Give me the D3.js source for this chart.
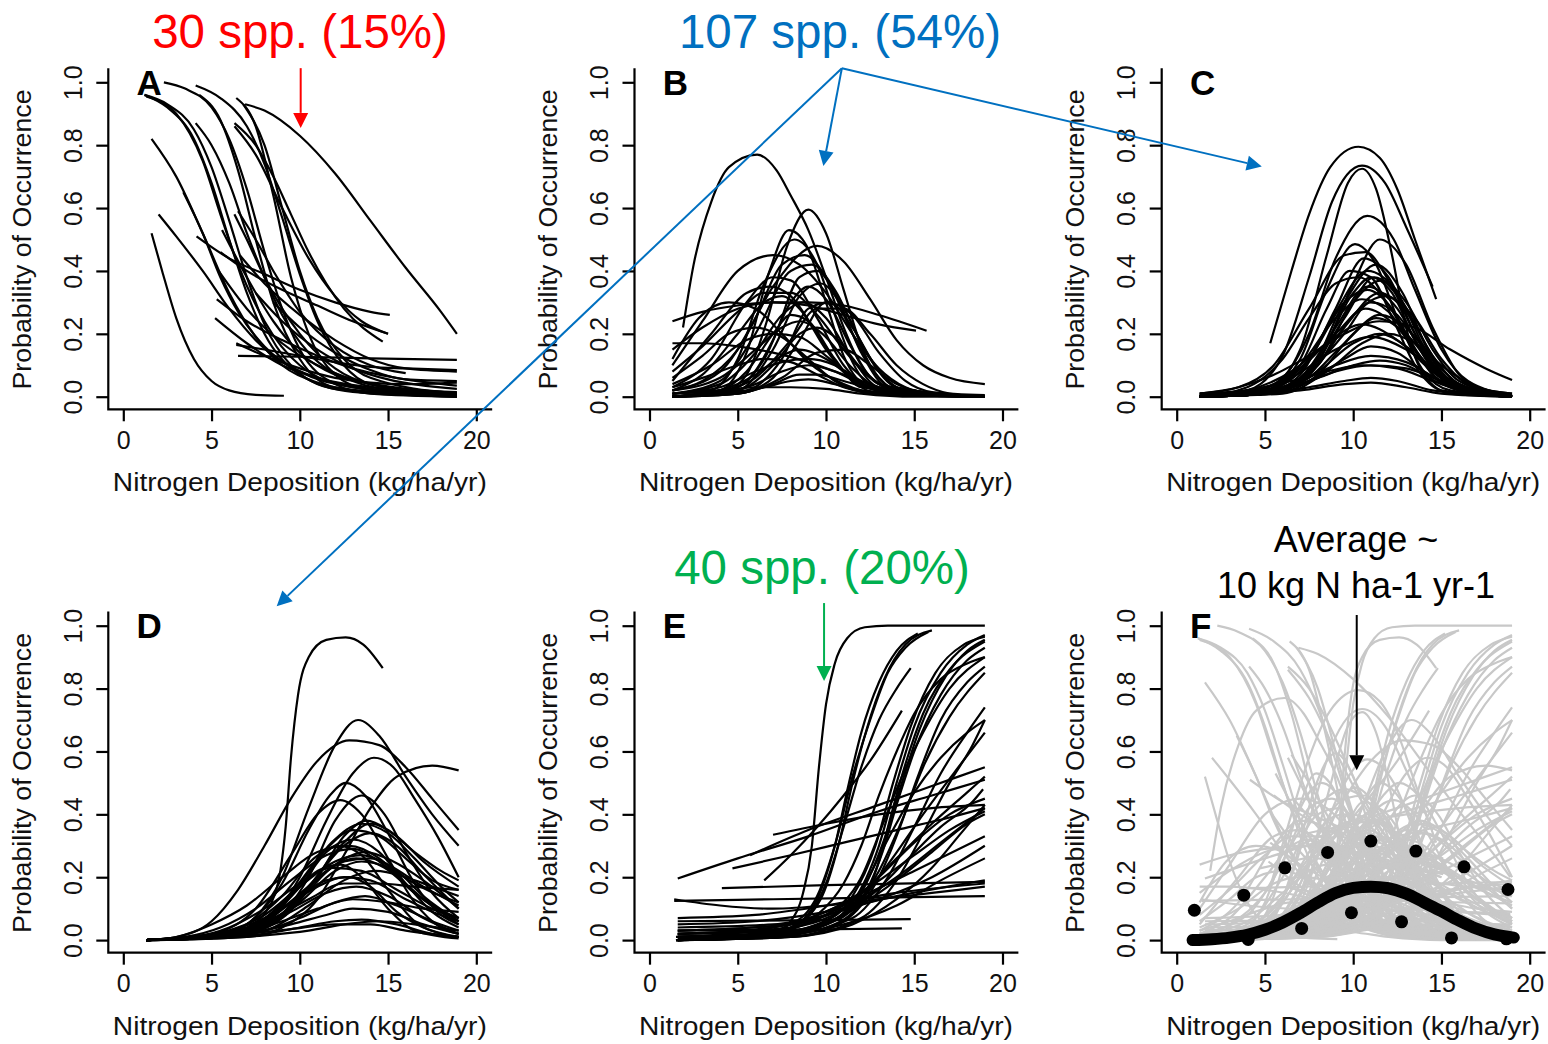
<!DOCTYPE html>
<html>
<head>
<meta charset="utf-8">
<script src="https://cdn.jsdelivr.net/npm/d3@7"></script>
<style>
  body { margin: 0; background: #fff; }
  svg { display: block; font-family: "Liberation Sans", Arial, sans-serif; }
</style>
</head>
<body>
<svg id="chart"></svg>
<script>
// Axis ticks and labels
const xTicks = [0, 5, 10, 15, 20];
const yTicks = [0, 0.2, 0.4, 0.6, 0.8, 1.0];
const xTitle = "Nitrogen Deposition (kg/ha/yr)";
const yTitle = "Probability of Occurrence";
const panelLetters = ["A", "B", "C", "D", "E", "F"];

// Species response curves, [N deposition, probability]
const declineCurves = [
  [[6.9,.93],[8,.91],[10,.83],[12,.71],[14,.56],[16,.41],[18,.27],[18.9,.2]],
  [[2.3,1.0],[3.5,.98],[5,.92],[6,.82],[7,.66],[8,.46],[9,.28],[10,.15],[12,.04],[14,.01],[18.9,0]],
  [[4.1,.99],[5.5,.95],[7,.86],[8,.74],[9,.57],[10,.39],[11,.24],[12.5,.1],[14,.04],[18.9,.005]],
  [[4.3,.96],[5.5,.88],[6.5,.72],[7.5,.5],[8.5,.3],[10,.12],[12,.03],[18.9,0]],
  [[6.4,.95],[7.5,.86],[8.5,.64],[9.5,.38],[10.5,.2],[12,.07],[14,.02],[18.9,.002]],
  [[6.8,.93],[8,.8],[9,.6],[10,.4],[11,.25],[12.5,.12],[14,.06],[18.9,.01]],
  [[1.2,.96],[2.5,.93],[4,.85],[5,.73],[6,.56],[7,.38],[8,.23],[9.5,.1],[12,.025],[18.9,0]],
  [[1.2,.96],[2.5,.92],[4,.82],[5,.68],[6,.5],[7,.33],[8,.2],[10,.07],[13,.015],[18.9,0]],
  [[1.3,.955],[3,.9],[4.5,.75],[5.5,.58],[6.5,.42],[8,.24],[10,.1],[13,.03],[18.9,.005]],
  [[1.6,.82],[3,.7],[4.5,.52],[6,.33],[7.5,.19],[9,.1],[11,.045],[14,.015],[18.9,.003]],
  [[2.0,.58],[3,.51],[4.5,.4],[6,.28],[7.5,.18],[9,.11],[11,.06],[14,.025],[18.9,.008]],
  [[1.6,.52],[2.2,.4],[3,.25],[4,.12],[5,.05],[6,.02],[7.5,.006],[9.1,.003]],
  [[3.4,.65],[4.5,.52],[5.5,.38],[6.5,.27],[8,.16],[10,.08],[13,.03],[16,.01]],
  [[4.15,.51],[6,.44],[8,.39],[10,.34],[12,.3],[14,.27],[15.1,.26]],
  [[5.5,.46],[7,.4],[9,.34],[11,.29],[13,.24],[15,.2]],
  [[6.5,.13],[10,.127],[14,.122],[18.9,.117]],
  [[6.4,.165],[8,.15],[10,.13],[12,.11],[14,.095],[16,.09],[18.9,.085]],
  [[6.3,.58],[7,.5],[8,.38],[9,.28],[10,.2],[12,.09],[14,.04],[18.9,.007]],
  [[6.3,.87],[7.5,.8],[8.5,.7],[9.5,.58],[10.5,.46],[11.5,.36],[12.5,.28],[14.7,.175]],
  [[6.3,.86],[7.5,.77],[9,.6],[10.5,.44],[12,.32],[13.5,.24],[15,.2]],
  [[5.6,.53],[7,.38],[8.5,.24],[10,.14],[12,.07],[14,.04],[16,.02],[18.9,.01]],
  [[4.1,.87],[5,.8],[6,.68],[7,.52],[8,.38],[9,.26],[10.5,.14],[13,.05],[16,.015],[18.9,.005]],
  [[5.4,.4],[7,.28],[9,.17],[11,.1],[13,.055],[16,.025],[18.9,.012]],
  [[5.3,.31],[7,.24],[9,.18],[11,.13],[13,.09],[16,.055],[18.9,.035]],
  [[6.6,.45],[8,.36],[10,.26],[12,.18],[14,.12],[16,.09],[18.9,.08]],
  [[6.5,.59],[7.5,.5],[8.5,.4],[10,.27],[12,.16],[14,.1],[16,.075]],
  [[5.2,.25],[7,.17],[9,.1],[11,.06],[14,.03],[18.9,.015]],
  [[7.5,.33],[9,.24],[11,.15],[13,.09],[15,.055],[18.9,.025]],
  [[6.4,.17],[8,.13],[10,.09],[12,.06],[14,.045],[16,.04],[18.9,.045]],
  [[8.5,.3],[10,.22],[12,.14],[14,.085],[16,.055],[18.9,.05]]
];

const earlyPeakCurves = [
  [[1.9,.22],[2.5,.42],[3.5,.62],[4.5,.73],[6.1,.77],[7.2,.72],[8,.64],[9,.53],[10,.38],[11,.22],[12,.1],[13,.04],[14.5,.01],[19,0]],
  [[1.3,0],[4,.01],[5.5,.07],[6.7,.25],[7.8,.48],[9,.595],[10,.52],[11,.34],[12,.16],[13,.06],[14.5,.01],[19,0]],
  [[1.3,0],[4,.02],[5.5,.14],[6.8,.4],[7.9,.53],[8.9,.48],[10,.3],[11,.13],[12.5,.03],[19,0]],
  [[1.3,0],[3.5,.02],[5,.12],[6.5,.36],[8.2,.5],[9.5,.42],[10.5,.26],[11.5,.11],[13,.02],[19,0]],
  [[1.3,.02],[3,.05],[5,.15],[7,.35],[9.5,.48],[11,.43],[12.5,.31],[14,.18],[15.5,.1],[17,.06],[19,.04]],
  [[1.3,.1],[3,.24],[5,.4],[7,.45],[8.5,.42],[10,.33],[11.5,.2],[13,.09],[14.5,.03],[16,.01],[19,0]],
  [[1.3,.24],[3,.27],[5,.29],[7,.3],[9,.3],[11,.29],[13,.26],[15.7,.21]],
  [[1.3,.17],[3,.17],[5,.16],[7,.14],[9,.11],[11,.07],[13,.03],[15,.01],[19,0]],
  [[1.3,.15],[3,.22],[5,.28],[7,.3],[9,.29],[11,.26],[13,.23],[15.1,.21]],
  [[1.3,.08],[3,.16],[5,.27],[6.5,.33],[8,.33],[9.5,.26],[11,.15],[12.5,.06],[14,.02],[19,0]],
  [[1.3,.02],[4,.08],[6,.25],[7.5,.42],[8.8,.45],[10,.38],[11.5,.2],[13,.06],[14.5,.01],[19,0]],
  [[1.3,.01],[4,.05],[6,.2],[8,.4],[9.2,.42],[10.5,.34],[12,.17],[13.5,.05],[15,.01],[19,0]],
  [[1.3,0],[5,.03],[7,.18],[8.5,.38],[9.5,.4],[10.5,.33],[12,.14],[13.5,.03],[19,0]],
  [[1.3,.03],[3.5,.12],[5.5,.3],[7,.38],[8,.37],[9.5,.25],[11,.1],[12.5,.03],[19,0]],
  [[1.3,.05],[3.5,.2],[5.5,.33],[6.8,.35],[8,.32],[9.5,.2],[11,.08],[13,.02],[19,0]],
  [[1.3,.12],[2.8,.25],[4.5,.3],[6,.28],[7.5,.2],[9,.11],[11,.04],[13,.01],[19,0]],
  [[1.3,0],[4.5,.02],[6.5,.12],[8,.3],[9,.35],[10,.31],[11.5,.15],[13,.04],[19,0]],
  [[1.3,0],[5,.02],[7,.15],[8.5,.32],[9.7,.36],[11,.28],[12.5,.12],[14,.03],[19,0]],
  [[1.3,.01],[4,.04],[6,.14],[7.5,.26],[8.7,.3],[10,.25],[11.5,.12],[13,.03],[19,0]],
  [[1.3,.02],[4,.06],[6,.15],[7.5,.22],[8.5,.24],[9.8,.2],[11.5,.09],[13,.03],[19,0]],
  [[1.3,0],[5.5,.02],[7.5,.12],[9,.28],[10.2,.3],[11.5,.22],[13,.08],[14.5,.02],[19,0]],
  [[1.3,.04],[3.5,.1],[5.5,.18],[7,.2],[8.5,.19],[10,.13],[12,.04],[14,.01],[19,0]],
  [[1.3,0],[4,.02],[6,.07],[7.5,.13],[8.5,.15],[10,.12],[11.5,.06],[13,.02],[19,0]],
  [[1.3,.01],[4,.03],[6,.08],[7.5,.11],[9,.12],[10.5,.1],[12,.05],[14,.01],[19,0]],
  [[1.3,0],[4,.01],[6,.04],[7.5,.08],[9,.1],[10.5,.08],[12,.04],[14,.01],[19,0]],
  [[1.3,0],[5,.01],[7,.04],[8.5,.07],[9.5,.07],[11,.05],[13,.02],[19,0]],
  [[1.3,0],[4.5,.01],[6.5,.03],[8,.05],[9,.055],[10.5,.04],[12.5,.01],[19,0]],
  [[1.3,.01],[4,.02],[6,.03],[8,.03],[10,.025],[12,.01],[15,0],[19,0]],
  [[1.3,.03],[3,.06],[5,.1],[6.5,.12],[8,.11],[9.5,.07],[11,.03],[13,.01],[19,0]],
  [[1.3,.06],[3,.13],[4.5,.2],[6,.22],[7.5,.19],[9,.12],[10.5,.05],[12,.02],[19,0]],
  [[1.3,0],[5,.02],[7,.1],[8.5,.2],[9.5,.22],[10.5,.19],[12,.09],[13.5,.03],[19,0]],
  [[1.3,0],[4,.02],[5.5,.08],[7,.2],[8,.26],[9,.24],[10.5,.12],[12,.03],[19,0]],
  [[1.3,.02],[3,.07],[5,.2],[6.5,.3],[7.5,.32],[8.5,.28],[10,.15],[11.5,.05],[13,.01],[19,0]],
  [[1.3,0],[5,.01],[7.5,.06],[9.5,.14],[11,.15],[12.5,.1],[14,.04],[16,.01],[19,0]],
  [[1.3,.01],[4,.02],[6,.06],[8,.18],[9.5,.28],[11,.28],[12.5,.2],[14,.1],[15.5,.04],[17,.01],[19,0]],
  [[1.3,0],[5,.01],[7,.06],[8.5,.18],[10,.3],[11.5,.26],[13,.14],[14.5,.05],[16,.015],[19,.005]]
];

const midPeakCurves = [
  [[5.3,.17],[6.5,.4],[7.5,.58],[8.7,.73],[10.3,.795],[11.5,.76],[12.5,.66],[13.5,.5],[14.7,.31]],
  [[1.3,0],[4,.02],[6,.13],[7.5,.38],[8.8,.62],[10.5,.735],[11.8,.68],[13,.54],[14.5,.35]],
  [[1.3,0],[5,.02],[7,.15],[8.5,.45],[9.7,.68],[10.5,.725],[11.3,.66],[12.2,.45],[13,.22],[14,.07],[15.5,.01],[19,0]],
  [[1.3,0],[4,.01],[6,.06],[7.5,.2],[9,.44],[10.8,.575],[12.3,.5],[13.5,.34],[15,.15],[16.5,.05],[19,.005]],
  [[1.3,0],[5,.01],[7,.06],[8.5,.17],[10,.36],[11.5,.5],[13,.42],[14.5,.22],[16,.07],[17.5,.02],[19,0]],
  [[1.3,0],[5,.02],[7,.12],[8.5,.34],[10.1,.485],[11.3,.42],[12.5,.25],[14,.08],[15.5,.02],[19,0]],
  [[1.3,.01],[3.5,.03],[5.5,.1],[7.5,.28],[9.5,.45],[10.7,.46],[12,.37],[13.5,.2],[15,.07],[17,.015],[19,0]],
  [[1.3,0],[5,.01],[7,.07],[9,.28],[10.6,.44],[12,.38],[13.5,.2],[15,.06],[17,.01],[19,0]],
  [[1.3,0],[5,.01],[7.5,.08],[9.5,.3],[11.3,.42],[12.8,.33],[14.3,.14],[16,.03],[19,0]],
  [[1.3,0],[4.5,.01],[7,.08],[9,.27],[10.8,.4],[12.5,.33],[14,.16],[15.5,.05],[17.5,.01],[19,0]],
  [[1.3,0],[5,.01],[7.5,.08],[9.5,.25],[11.2,.38],[12.8,.3],[14.5,.13],[16,.04],[19,0]],
  [[1.3,0],[4.5,.01],[7,.06],[9,.22],[10.8,.35],[12.5,.28],[14,.13],[15.5,.04],[19,0]],
  [[1.3,0],[5,.01],[7.5,.07],[9.5,.22],[11.5,.33],[13,.27],[14.5,.13],[16,.04],[19,0]],
  [[1.3,0],[5,.01],[7.5,.08],[9.5,.2],[11,.3],[12.5,.26],[14,.14],[15.5,.05],[19,0]],
  [[1.3,0],[4.5,.02],[7,.09],[9,.2],[10.7,.28],[12.5,.22],[14,.11],[16,.03],[19,0]],
  [[1.3,0],[5,.01],[7.5,.06],[9.5,.17],[11.3,.25],[13,.2],[14.5,.1],[16,.03],[19,0]],
  [[1.3,0],[4,.02],[6.5,.08],[8.5,.17],[10.5,.23],[12.5,.18],[14.5,.08],[16.5,.02],[19,0]],
  [[1.3,0],[5,.01],[8,.08],[10,.17],[11.5,.2],[13,.16],[14.5,.08],[16,.03],[19,0]],
  [[1.3,.01],[4,.02],[6.5,.06],[9,.15],[11,.19],[13,.15],[15,.07],[17,.02],[19,.005]],
  [[1.3,0],[5,.01],[7.5,.05],[9.5,.12],[11,.16],[12.5,.14],[14,.08],[16,.02],[19,0]],
  [[1.3,0],[4,.01],[7,.05],[9,.1],[11,.13],[13,.11],[15,.05],[17,.01],[19,0]],
  [[1.3,0],[5,.01],[8,.06],[10,.1],[11.5,.115],[13,.1],[15,.04],[17,.01],[19,0]],
  [[1.3,0],[4.5,.01],[7,.04],[9,.08],[11,.1],[13,.09],[15,.05],[17,.015],[19,.003]],
  [[1.3,.005],[4,.02],[6.5,.05],[8.5,.08],[10.5,.1],[12.5,.09],[14.5,.05],[17,.01],[19,0]],
  [[1.3,0],[5,.01],[7.5,.03],[9.5,.05],[11,.06],[12.5,.05],[14.5,.02],[19,0]],
  [[1.3,0],[4,.01],[7,.02],[9.5,.04],[11,.045],[13,.03],[15,.01],[19,0]],
  [[1.3,.01],[3.5,.03],[5.5,.07],[7.5,.13],[9.5,.2],[11.5,.24],[13.5,.22],[15.5,.15],[17.5,.09],[19,.053]],
  [[1.3,0],[4,.03],[6,.12],[7.5,.25],[9,.36],[10.3,.38],[11.5,.33],[13,.2],[14.5,.07],[16,.02],[19,0]],
  [[1.3,0],[5,.01],[8,.1],[10,.3],[11.6,.37],[13,.3],[14.5,.15],[16,.05],[19,0]],
  [[1.3,0],[5,.02],[7.5,.12],[9.5,.3],[10.8,.34],[12.2,.28],[13.5,.15],[15,.05],[19,0]],
  [[1.3,0],[4.5,.02],[7,.1],[9,.25],[10.5,.31],[12,.27],[13.5,.15],[15.5,.04],[19,0]],
  [[1.3,0],[5,.01],[8,.1],[10,.26],[11.8,.32],[13.5,.25],[15,.12],[16.5,.04],[19,.01]],
  [[1.3,0],[5.5,.01],[8,.07],[10,.2],[11.5,.26],[13,.22],[14.5,.12],[16,.04],[19,0]],
  [[1.3,0],[4.5,.01],[7.5,.07],[10,.33],[11,.38],[12.2,.33],[13.5,.18],[15,.06],[19,0]],
  [[1.3,0],[5,.02],[7,.1],[8.5,.28],[9.8,.4],[11,.38],[12.3,.24],[13.5,.1],[15,.02],[19,0]],
  [[1.3,0],[6,.01],[8.5,.08],[10.5,.17],[12,.2],[13.5,.17],[15,.1],[17,.03],[19,.01]]
];

const latePeakCurves = [
  [[1.3,0],[5,.01],[7,.04],[8.4,.12],[8.9,.22],[9.2,.36],[9.5,.58],[9.9,.78],[10.5,.9],[11.5,.955],[12.6,.963],[13.6,.94],[14.7,.865]],
  [[1.3,0],[5,.01],[7,.05],[9,.2],[10.5,.42],[12,.62],[13.3,.7],[14.5,.65],[16,.52],[17.5,.4],[19,.3]],
  [[1.3,0],[3,.01],[5,.06],[6.5,.16],[8,.3],[9.5,.45],[11,.57],[12.8,.635],[14.5,.62],[16,.55],[17.5,.45],[19,.35]],
  [[1.3,0],[6,.01],[8,.05],[10,.2],[11.5,.38],[13,.53],[14.2,.58],[15.3,.55],[16.5,.45],[17.8,.33],[19,.2]],
  [[1.3,0],[7,.01],[9,.04],[11,.13],[12.5,.27],[14,.42],[15.5,.52],[17.5,.555],[19,.54]],
  [[1.3,0],[5,.01],[7,.05],[9,.18],[10.5,.35],[11.7,.46],[12.6,.5],[13.7,.46],[15,.34],[16.5,.18],[18,.08],[19,.05]],
  [[1.3,0],[5,.02],[7.5,.1],[9.5,.27],[11,.4],[12.3,.445],[13.5,.4],[15,.26],[16.5,.12],[18,.04],[19,.02]],
  [[1.3,0],[6,.01],[8.5,.06],[10.5,.2],[12,.38],[13.5,.46],[14.8,.4],[16,.28],[17.5,.15],[19,.07]],
  [[1.3,0],[6,.01],[9,.07],[11,.2],[12.5,.33],[13.8,.38],[15,.35],[16.5,.28],[18,.22],[19,.19]],
  [[1.3,0],[6,.01],[8.5,.05],[10.5,.17],[12.5,.31],[14,.37],[15.5,.33],[17,.25],[19,.17]],
  [[1.3,0],[3,.01],[5,.05],[7,.11],[9,.2],[11,.28],[12.8,.3],[14.5,.26],[16,.18],[17.5,.11],[19,.07]],
  [[1.3,0],[3.5,.01],[5.5,.04],[7.5,.1],[9.5,.19],[11.5,.27],[13,.29],[14.5,.25],[16.5,.15],[19,.06]],
  [[1.3,0],[4,.01],[6,.03],[8,.08],[10,.17],[12,.25],[13.5,.27],[15,.24],[17,.17],[19,.11]],
  [[1.3,0],[4,.01],[6.5,.03],[8.5,.08],[10.5,.17],[12.5,.25],[14,.26],[15.5,.22],[17,.14],[19,.06]],
  [[1.3,0],[5,.01],[7.5,.04],[9.5,.12],[11.5,.22],[13.2,.26],[14.8,.23],[16.5,.15],[19,.05]],
  [[1.3,0],[4,.01],[6,.04],[8,.1],[10,.18],[11.8,.23],[13.5,.22],[15.5,.16],[17.5,.1],[19,.07]],
  [[1.3,0],[4.5,.01],[7,.04],[9,.1],[11,.17],[12.5,.2],[14,.19],[16,.13],[17.5,.09],[19,.06]],
  [[1.3,0],[4,.01],[6.5,.03],[8.5,.07],[10.5,.13],[12.5,.18],[14.5,.18],[16.5,.17],[19,.16]],
  [[1.3,0],[5,.01],[7.5,.04],[9.5,.09],[11.5,.15],[13.2,.17],[15,.14],[17,.07],[19,.02]],
  [[1.3,0],[4,.01],[6.5,.02],[9,.06],[11,.1],[13,.13],[15,.12],[17,.1],[19,.09]],
  [[1.3,0],[5,.01],[8,.03],[10,.07],[12,.12],[13.7,.14],[15.5,.11],[17.5,.06],[19,.03]],
  [[1.3,0],[4,.005],[7,.02],[9.5,.05],[11.5,.08],[13,.1],[15,.09],[17,.05],[19,.02]],
  [[1.3,0],[5,.01],[8,.02],[10,.04],[12,.06],[13.5,.065],[15.5,.05],[17.5,.02],[19,.01]],
  [[1.3,0],[4,.005],[7,.02],[9.5,.035],[12,.05],[14,.05],[16,.03],[19,.01]],
  [[1.3,0],[5,.005],[8,.015],[10.5,.03],[12.5,.05],[14.5,.06],[16.5,.05],[19,.03]],
  [[1.3,0],[4,.01],[6,.03],[8,.07],[10,.14],[11.5,.19],[12.8,.2],[14,.17],[15.5,.09],[17,.04],[19,.01]],
  [[1.3,0],[5,.01],[7.5,.05],[9.5,.14],[11,.22],[12.3,.24],[13.5,.2],[15,.1],[16.5,.03],[19,.005]],
  [[1.3,0],[4.5,.01],[7,.05],[9,.14],[10.8,.26],[12.2,.3],[13.5,.27],[15,.16],[16.5,.06],[18,.02],[19,.01]],
  [[1.3,0],[5,.01],[8,.06],[10,.17],[11.5,.28],[13,.32],[14.5,.28],[16,.18],[17.5,.09],[19,.04]],
  [[1.3,0],[5.5,.01],[8,.04],[10,.12],[12,.22],[13.5,.25],[15,.23],[16.5,.18],[18,.14],[19,.12]],
  [[1.3,0],[6,.01],[8.5,.04],[10.5,.11],[12.5,.19],[14.3,.22],[16,.2],[17.5,.17],[19,.14]],
  [[1.3,0],[5,.01],[8,.05],[10,.13],[12,.24],[13.7,.28],[15.3,.25],[17,.19],[19,.1]],
  [[1.3,0],[4.5,.01],[7.5,.05],[9.5,.15],[11.5,.29],[13,.35],[14.5,.33],[16,.26],[17.5,.19],[19,.16]],
  [[1.3,0],[5,.01],[8,.06],[10,.18],[11.8,.31],[13.5,.37],[15,.34],[16.5,.26],[18,.17],[19,.12]],
  [[1.3,0],[5.5,.01],[8.5,.06],[10.5,.17],[12.5,.3],[14,.34],[15.5,.3],[17,.21],[19,.1]]
];

const increaseCurves = [
  [[1.5,0],[5,.005],[7,.02],[8,.06],[8.7,.15],[9.2,.3],[9.6,.55],[10,.75],[10.5,.88],[11.2,.96],[12.2,.995],[13.5,1],[19,1]],
  [[1.5,0],[6,.01],[8,.04],[9.5,.13],[10.5,.3],[11.3,.5],[12,.66],[13,.82],[14,.92],[15.2,.975]],
  [[1.5,0],[6,.01],[8,.04],[9.7,.13],[10.7,.3],[11.5,.5],[12.3,.67],[13.3,.83],[14.5,.94],[16,.985]],
  [[1.5,.01],[6,.02],[8,.05],[9.5,.14],[10.5,.3],[11.5,.52],[12.5,.7],[13.5,.85],[14.5,.93],[15.8,.98]],
  [[1.5,0],[6,.01],[8.5,.05],[10,.18],[11,.36],[12,.55],[13,.7],[14,.8],[14.8,.865]],
  [[6.5,.19],[8,.27],[9.5,.36],[11,.46],[12.5,.57],[14.3,.73]],
  [[1.6,.196],[5,.26],[9,.33],[13,.41],[16,.46],[19,.51]],
  [[5.7,.27],[9,.35],[13,.43],[16,.49],[19,.55]],
  [[7,.335],[10,.37],[13,.4],[16,.42],[19,.43]],
  [[4.7,.228],[8,.27],[11,.31],[14,.35],[17,.39],[19,.42]],
  [[4.1,.165],[10,.175],[19,.185]],
  [[1.4,.13],[4,.11],[7,.1],[10,.11],[13,.13],[16,.15],[19,.17]],
  [[1.4,.125],[7,.13],[13,.135],[19,.14]],
  [[1.6,.06],[8,.063],[14.8,.067]],
  [[1.6,.03],[8,.033],[14.3,.037]],
  [[1.6,0],[7,.01],[9.5,.04],[11.5,.12],[13,.3],[14,.5],[15,.68],[16.5,.85],[18,.94],[19,.97]],
  [[1.6,.01],[7,.02],[9.5,.05],[11.5,.14],[12.8,.3],[13.8,.5],[14.8,.68],[16.2,.85],[17.8,.94],[19,.965]],
  [[1.6,0],[7,.01],[10,.05],[12,.15],[13.3,.32],[14.3,.5],[15.3,.67],[16.8,.84],[18,.92],[19,.955]],
  [[1.6,.02],[7,.03],[10,.08],[12,.2],[13.3,.38],[14.3,.52],[15.5,.66],[17,.8],[19,.9]],
  [[1.6,0],[8,.01],[11,.06],[13,.2],[14.2,.36],[15.2,.52],[16.5,.7],[18,.82],[19,.87]],
  [[1.6,0],[8,.02],[11,.08],[13,.22],[14.3,.38],[15.5,.55],[17,.71],[19,.85]],
  [[1.6,.01],[8,.02],[11.5,.07],[13.5,.2],[15,.36],[16.5,.53],[18,.66],[19,.74]],
  [[1.6,0],[8,.01],[12,.07],[14,.19],[15.5,.34],[17,.5],[18.3,.62],[19,.7]],
  [[1.6,.02],[8,.03],[11.5,.1],[13.5,.24],[15.5,.4],[17.5,.55],[19,.66]],
  [[1.6,.03],[8,.05],[12,.15],[14,.26],[16,.37],[18,.47],[19,.52]],
  [[1.6,0],[7,.01],[10,.05],[12.5,.14],[14.5,.25],[16.5,.36],[18.3,.44],[18.9,.48]],
  [[1.6,.02],[7,.04],[10,.09],[12.5,.17],[15,.27],[17,.35],[19,.41]],
  [[1.6,.01],[8,.03],[11,.08],[13.5,.17],[16,.28],[18,.37],[19,.4]],
  [[1.6,.03],[8,.05],[11,.1],[14,.2],[16.5,.31],[19,.42]],
  [[1.6,.01],[8,.02],[11,.05],[14,.11],[16.5,.19],[19,.26]],
  [[1.6,.07],[6,.08],[10,.11],[14,.15],[19,.18]],
  [[1.6,.05],[6,.06],[10,.09],[14,.14],[19,.19]],
  [[1.6,0],[7,.01],[10,.04],[12,.12],[13,.25],[13.7,.4],[14.5,.56],[15.5,.72],[17,.86],[19,.95]],
  [[1.6,.01],[7,.02],[10,.05],[12,.13],[13.2,.28],[14,.43],[15,.6],[16.5,.78],[18,.89],[19,.93]],
  [[1.6,.005],[7,.015],[10,.06],[12,.16],[13.5,.32],[15,.47],[16.5,.58],[18,.66],[19,.7]],
  [[1.6,.02],[8,.04],[11,.1],[13,.2],[15,.31],[17,.4],[19,.45]],
  [[1.6,0],[8,.01],[11.5,.05],[14,.13],[16,.23],[17.5,.33],[19,.43]],
  [[1.6,.01],[6,.03],[9,.07],[12,.14],[15,.22],[19,.33]],
  [[1.6,0],[7,.02],[9.5,.08],[11,.18],[12,.3],[13,.46],[14,.6],[15,.72],[16.5,.83],[18,.88],[19,.9]],
  [[1.6,.04],[7,.05],[10,.08],[13,.13],[16,.2],[19,.3]]
];

// Panel F: community average and binned observed frequencies
const averageCurve = [[0.9,0],[2,.003],[3,.008],[4,.017],[5,.033],[6,.056],[7,.086],[8,.12],[9,.15],[10,.166],[11,.17],[12,.165],[13,.148],[14,.12],[15,.092],[16,.062],[17,.036],[18,.018],[19.1,.008]];
const observedDots = [[1.0,.095],[3.8,.143],[4.05,.002],[6.13,.23],[7.08,.037],[8.55,.279],[9.9,.087],[11.0,.315],[12.74,.058],[13.55,.283],[15.57,.007],[16.28,.233],[18.77,.161],[18.68,.004]];

const groupNotes = [
  { text: "30 spp. (15%)", colour: "#FF0000" },
  { text: "107 spp. (54%)", colour: "#0070C0" },
  { text: "40 spp. (20%)", colour: "#00B050" }
];
const averageNote = ["Average ~", "10 kg N ha-1 yr-1"];

const width = 1548, height = 1044;
const colLeft = [123.3, 649.5, 1176.7];
const rowTop = [82.3, 625.7];
const plotW = 353, plotH = 314.4;

const svg = d3.select("#chart")
    .attr("width", width)
    .attr("height", height);

svg.append("rect")
    .attr("width", width)
    .attr("height", height)
    .attr("fill", "white");

// One panel of species response curves
class ResponsePanel {
  constructor(_config) {
    this.config = {
      parentElement: _config.parentElement,
      left: _config.left,
      top: _config.top,
      letter: _config.letter,
      curves: _config.curves,
      stroke: _config.stroke || "black"
    };
    this.initVis();
  }

  initVis() {
    let vis = this;

    vis.x = d3.scaleLinear().domain([0, 20]).range([vis.config.left, vis.config.left + plotW]);
    vis.y = d3.scaleLinear().domain([0, 1]).range([vis.config.top + plotH, vis.config.top]);

    vis.g = vis.config.parentElement.append("g");

    vis.line = d3.line()
        .x(d => vis.x(d[0]))
        .y(d => vis.y(d[1]))
        .curve(d3.curveMonotoneX);

    vis.curveLayer = vis.g.append("g");
    vis.curveLayer.selectAll("path")
        .data(vis.config.curves)
      .join("path")
        .attr("d", vis.line)
        .attr("fill", "none")
        .attr("stroke", vis.config.stroke)
        .attr("stroke-width", 2.2)
        .attr("stroke-linejoin", "round");

    // L-shaped box like R's bty="l"
    vis.g.append("path")
        .attr("d", `M${vis.x(-0.85)},${vis.y(1.045)}V${vis.y(-0.04)}H${vis.x(20.9)}`)
        .attr("fill", "none")
        .attr("stroke", "black")
        .attr("stroke-width", 2.2);

    let xAxis = d3.axisBottom(vis.x).tickValues(xTicks).tickSize(12).tickPadding(10).tickSizeOuter(0);
    vis.g.append("g")
        .attr("transform", `translate(0,${vis.y(-0.04)})`)
        .call(xAxis)
        .call(g => g.select(".domain").remove())
        .call(g => g.selectAll("line").attr("stroke-width", 2.2))
        .call(g => g.selectAll("text").attr("font-size", 25).attr("font-family", null).attr("fill", "#111"));

    let yAxis = d3.axisLeft(vis.y).tickValues(yTicks).tickSize(12).tickFormat(d3.format(".1f")).tickSizeOuter(0);
    vis.g.append("g")
        .attr("transform", `translate(${vis.x(-0.85)},0)`)
        .call(yAxis)
        .call(g => g.select(".domain").remove())
        .call(g => g.selectAll("line").attr("stroke-width", 2.2))
        .call(g => g.selectAll("text")
            .attr("x", null)
            .attr("dy", null)
            .attr("text-anchor", "middle")
            .attr("transform", "translate(-26.5,0) rotate(-90)")
            .attr("font-size", 25)
            .attr("font-family", null)
            .attr("fill", "#111"));

    vis.g.append("text")
        .attr("transform", `translate(${vis.config.left - 92.5},${vis.y(0.5)}) rotate(-90)`)
        .attr("text-anchor", "middle")
        .attr("font-size", 25)
        .attr("textLength", 300)
        .attr("lengthAdjust", "spacingAndGlyphs")
        .attr("fill", "#111")
        .text(yTitle);

    vis.g.append("text")
        .attr("x", vis.x(10))
        .attr("y", vis.config.top + plotH + 94.4)
        .attr("text-anchor", "middle")
        .attr("font-size", 25)
        .attr("textLength", 374)
        .attr("lengthAdjust", "spacingAndGlyphs")
        .attr("fill", "#111")
        .text(xTitle);
  }

  addLetter() {
    let vis = this;
    vis.g.append("text")
        .attr("x", vis.x(0.75))
        .attr("y", vis.y(0.96))
        .attr("font-size", 35)
        .attr("font-weight", "bold")
        .text(vis.config.letter);
  }
}

const panelCurves = [declineCurves, earlyPeakCurves, midPeakCurves, latePeakCurves, increaseCurves,
  [].concat(declineCurves, earlyPeakCurves, midPeakCurves, latePeakCurves, increaseCurves)];

const panels = panelLetters.map((letter, i) => new ResponsePanel({
  parentElement: svg,
  left: colLeft[i % 3],
  top: rowTop[Math.floor(i / 3)],
  letter: letter,
  curves: panelCurves[i],
  stroke: i === 5 ? "#c8c8c8" : "black"
}));

// Average response on panel F
const pF = panels[5];
pF.g.append("path")
    .attr("d", pF.line(averageCurve))
    .attr("fill", "none")
    .attr("stroke", "black")
    .attr("stroke-width", 12)
    .attr("stroke-linecap", "round");

pF.g.selectAll("circle.obs")
    .data(observedDots)
  .join("circle")
    .attr("class", "obs")
    .attr("cx", d => pF.x(d[0]))
    .attr("cy", d => pF.y(d[1]))
    .attr("r", 6.5)
    .attr("fill", "black");

panels.forEach(p => p.addLetter());

// Annotations
const notes = svg.append("g");

function arrow(from, to, colour) {
  let dx = to[0] - from[0], dy = to[1] - from[1];
  let len = Math.sqrt(dx * dx + dy * dy);
  let ux = dx / len, uy = dy / len;
  let headLen = 15, headW = 7.5;
  let bx = to[0] - ux * headLen, by = to[1] - uy * headLen;
  notes.append("line")
      .attr("x1", from[0]).attr("y1", from[1])
      .attr("x2", bx).attr("y2", by)
      .attr("stroke", colour)
      .attr("stroke-width", 2);
  notes.append("path")
      .attr("d", `M${to[0]},${to[1]}L${bx - uy * headW},${by + ux * headW}L${bx + uy * headW},${by - ux * headW}Z`)
      .attr("fill", colour);
}

const pA = panels[0], pB = panels[1], pC = panels[2], pD = panels[3], pE = panels[4];

arrow([pA.x(10.05), pA.y(1.045)], [pA.x(10.05), pA.y(0.855)], groupNotes[0].colour);

const apex = [pB.x(10.9), pB.y(1.045)];
arrow(apex, [pB.x(9.85), pB.y(0.734)], groupNotes[1].colour);
arrow(apex, [pC.x(4.82), pC.y(0.732)], groupNotes[1].colour);
arrow(apex, [pD.x(8.69), pD.y(1.062)], groupNotes[1].colour);

arrow([pE.x(9.89), pE.y(1.072)], [pE.x(9.89), pE.y(0.824)], groupNotes[2].colour);
arrow([pF.x(10.2), pF.y(1.034)], [pF.x(10.2), pF.y(0.54)], "black");

const notePos = [[300, 48], [840, 48], [822, 584]];
groupNotes.forEach((n, i) => {
  notes.append("text")
      .attr("x", notePos[i][0])
      .attr("y", notePos[i][1])
      .attr("text-anchor", "middle")
      .attr("font-size", 47.5)
      .attr("fill", n.colour)
      .text(n.text);
});

averageNote.forEach((t, i) => {
  notes.append("text")
      .attr("x", 1356)
      .attr("y", 552 + i * 45.5)
      .attr("text-anchor", "middle")
      .attr("font-size", 36)
      .attr("fill", "black")
      .text(t);
});
</script>
</body>
</html>
